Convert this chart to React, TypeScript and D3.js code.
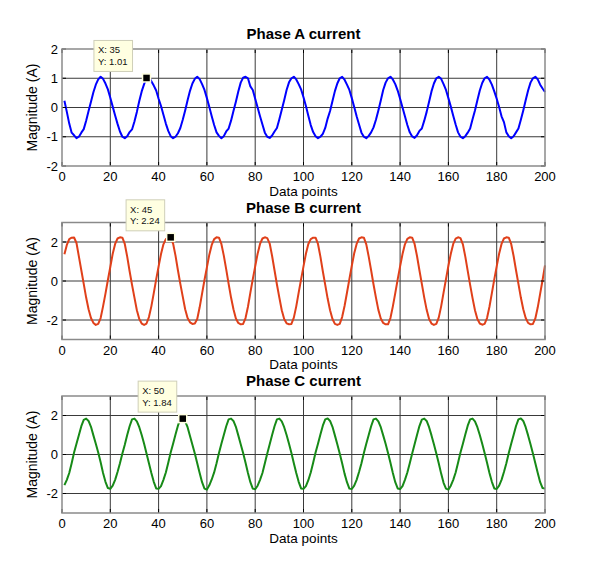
import React, { useEffect, useRef } from "react";
import * as d3 from "d3";

// sample values, x = 1..200
const phaseA = [
  0.23, -0.15, -0.55, -0.86, -0.95, -1.05, -1.0, -0.86, -0.74, -0.45, -0.12, 0.2, 0.52, 0.78, 0.96, 1.05, 0.98, 0.82, 0.62, 0.33,
  0.03, -0.27, -0.56, -0.82, -1.0, -1.05, -0.98, -0.84, -0.75, -0.48, -0.15, 0.22, 0.55, 0.8, 1.01, 1.05, 0.9, 0.75, 0.58, 0.3,
  0.05, -0.25, -0.55, -0.8, -0.98, -1.05, -1.0, -0.88, -0.7, -0.42, -0.1, 0.25, 0.57, 0.82, 0.98, 1.05, 0.97, 0.8, 0.6, 0.32,
  0.02, -0.3, -0.6, -0.85, -0.97, -1.05, -0.98, -0.82, -0.72, -0.45, -0.12, 0.2, 0.55, 0.85, 1.02, 1.05, 1.0, 0.72, 0.6, 0.3,
  0.0, -0.3, -0.58, -0.86, -1.0, -1.04, -0.96, -0.82, -0.7, -0.4, -0.08, 0.25, 0.6, 0.86, 1.0, 1.05, 0.96, 0.8, 0.62, 0.35,
  0.05, -0.28, -0.6, -0.84, -0.98, -1.05, -1.0, -0.9, -0.7, -0.38, -0.12, 0.22, 0.56, 0.82, 1.0, 1.05, 0.95, 0.78, 0.6, 0.32,
  0.02, -0.3, -0.58, -0.86, -1.0, -1.05, -0.97, -0.85, -0.68, -0.42, -0.1, 0.24, 0.6, 0.85, 1.0, 1.05, 0.96, 0.8, 0.58, 0.3,
  0.0, -0.3, -0.6, -0.85, -0.99, -1.04, -0.95, -0.8, -0.72, -0.45, -0.15, 0.2, 0.55, 0.82, 1.0, 1.05, 0.98, 0.8, 0.6, 0.32,
  0.03, -0.28, -0.58, -0.85, -1.0, -1.05, -0.98, -0.86, -0.72, -0.4, -0.1, 0.25, 0.58, 0.84, 1.0, 1.05, 0.95, 0.78, 0.55, 0.3,
  0.02, -0.3, -0.5, -0.85, -0.98, -1.05, -0.98, -0.85, -0.72, -0.42, -0.1, 0.25, 0.58, 0.85, 1.0, 1.05, 0.96, 0.78, 0.65, 0.53,
];

const phaseB = [
  1.37, 1.85, 2.15, 2.22, 2.23, 1.95, 1.25, 0.55, -0.15, -0.85, -1.45, -1.9, -2.15, -2.25, -2.2, -1.9, -1.3, -0.65, 0.05, 0.72,
  1.4, 1.9, 2.18, 2.24, 2.22, 1.9, 1.25, 0.5, -0.2, -0.85, -1.5, -1.95, -2.18, -2.25, -2.18, -1.85, -1.3, -0.62, 0.08, 0.75,
  1.38, 1.88, 2.15, 2.22, 2.24, 1.92, 1.3, 0.55, -0.15, -0.8, -1.45, -1.9, -2.12, -2.2, -2.18, -1.95, -1.35, -0.65, 0.05, 0.7,
  1.35, 1.85, 2.15, 2.24, 2.22, 1.9, 1.3, 0.6, -0.15, -0.85, -1.45, -1.92, -2.15, -2.22, -2.2, -1.9, -1.32, -0.6, 0.1, 0.75,
  1.4, 1.9, 2.18, 2.24, 2.2, 1.92, 1.28, 0.55, -0.18, -0.85, -1.5, -1.95, -2.17, -2.22, -2.2, -1.88, -1.3, -0.6, 0.08, 0.75,
  1.4, 1.9, 2.15, 2.22, 2.22, 1.9, 1.25, 0.5, -0.2, -0.9, -1.5, -1.95, -2.2, -2.25, -2.2, -1.85, -1.28, -0.6, 0.1, 0.78,
  1.42, 1.9, 2.18, 2.24, 2.22, 1.88, 1.25, 0.55, -0.18, -0.85, -1.48, -1.92, -2.15, -2.22, -2.22, -1.9, -1.3, -0.62, 0.08, 0.75,
  1.38, 1.88, 2.16, 2.24, 2.22, 1.9, 1.28, 0.55, -0.15, -0.85, -1.48, -1.95, -2.18, -2.25, -2.2, -1.88, -1.3, -0.6, 0.1, 0.78,
  1.4, 1.9, 2.17, 2.24, 2.2, 1.88, 1.25, 0.52, -0.2, -0.88, -1.5, -1.95, -2.18, -2.24, -2.2, -1.9, -1.32, -0.62, 0.08, 0.75,
  1.4, 1.9, 2.18, 2.24, 2.22, 1.9, 1.28, 0.55, -0.15, -0.85, -1.45, -1.9, -2.15, -2.22, -2.2, -1.92, -1.35, -0.65, 0.05, 0.8,
];

const phaseC = [
  -1.57, -1.3, -0.95, -0.45, 0.1, 0.55, 1.0, 1.45, 1.78, 1.84, 1.72, 1.42, 0.98, 0.55, 0.1, -0.4, -0.95, -1.4, -1.72, -1.76,
  -1.6, -1.3, -0.9, -0.45, 0.05, 0.5, 1.0, 1.45, 1.8, 1.84, 1.7, 1.4, 1.0, 0.55, 0.05, -0.45, -0.95, -1.4, -1.74, -1.76,
  -1.62, -1.3, -0.92, -0.42, 0.1, 0.55, 1.02, 1.48, 1.8, 1.84, 1.7, 1.4, 0.95, 0.5, 0.05, -0.45, -0.95, -1.42, -1.75, -1.8,
  -1.58, -1.28, -0.92, -0.45, 0.08, 0.55, 1.0, 1.45, 1.8, 1.84, 1.72, 1.42, 0.98, 0.52, 0.08, -0.42, -0.95, -1.42, -1.75, -1.78,
  -1.6, -1.3, -0.95, -0.45, 0.05, 0.52, 1.0, 1.45, 1.8, 1.84, 1.7, 1.4, 1.0, 0.55, 0.08, -0.45, -0.95, -1.4, -1.74, -1.76,
  -1.62, -1.32, -0.92, -0.42, 0.1, 0.55, 1.02, 1.48, 1.8, 1.85, 1.72, 1.42, 0.98, 0.52, 0.05, -0.45, -0.98, -1.42, -1.75, -1.77,
  -1.6, -1.3, -0.9, -0.45, 0.08, 0.55, 1.0, 1.45, 1.8, 1.84, 1.7, 1.4, 0.98, 0.55, 0.08, -0.42, -0.95, -1.42, -1.74, -1.77,
  -1.62, -1.3, -0.92, -0.45, 0.05, 0.52, 1.0, 1.46, 1.79, 1.84, 1.72, 1.4, 0.98, 0.52, 0.05, -0.45, -0.98, -1.45, -1.75, -1.8,
  -1.6, -1.3, -0.92, -0.42, 0.1, 0.55, 1.02, 1.48, 1.8, 1.84, 1.7, 1.4, 1.0, 0.55, 0.08, -0.42, -0.95, -1.4, -1.74, -1.77,
  -1.6, -1.3, -0.9, -0.45, 0.08, 0.55, 1.0, 1.46, 1.8, 1.85, 1.72, 1.4, 0.98, 0.52, 0.05, -0.45, -0.95, -1.42, -1.72, -1.75,
];

const xTicks = [0, 20, 40, 60, 80, 100, 120, 140, 160, 180, 200];
const yTicksA = [-2, -1, 0, 1, 2];
const yTicksBC = [-2, 0, 2];
const titles = ["Phase A current", "Phase B current", "Phase C current"];
const tipX = [35, 45, 50];

const FONT = "'Liberation Sans', Arial, sans-serif";

export default function App() {
  const ref = useRef(null);

  useEffect(() => {
    document.body.style.margin = "0";
    const svg = d3.select(ref.current);
    svg.selectAll("*").remove();

    const left = 62;
    const right = 545;
    const x = d3.scaleLinear().domain([0, 200]).range([left, right]);

    const panels = [
      { values: phaseA, color: "#0000ff", top: 49, domain: [-2, 2], ticks: yTicksA, tipDx: -14 },
      { values: phaseB, color: "#e0401a", top: 222.5, domain: [-3, 3], ticks: yTicksBC, tipDx: -6 },
      { values: phaseC, color: "#178a17", top: 396, domain: [-3, 3], ticks: yTicksBC, tipDx: -6 },
    ];
    const h = 117;

    panels.forEach((p, i) => {
      const bottom = p.top + h;
      const y = d3.scaleLinear().domain(p.domain).range([bottom, p.top]);
      const g = svg.append("g");

      // grid
      g.selectAll(".vg")
        .data(xTicks.slice(1, -1))
        .join("line")
        .attr("x1", (d) => x(d))
        .attr("x2", (d) => x(d))
        .attr("y1", p.top)
        .attr("y2", bottom)
        .attr("stroke", "#3a3a3a")
        .attr("stroke-width", 1);
      g.selectAll(".hg")
        .data(p.ticks.filter((t) => t > p.domain[0] && t < p.domain[1]))
        .join("line")
        .attr("x1", left)
        .attr("x2", right)
        .attr("y1", (d) => y(d))
        .attr("y2", (d) => y(d))
        .attr("stroke", "#3a3a3a")
        .attr("stroke-width", 1);

      // signal
      const line = d3
        .line<number>()
        .x((_, k) => x(k + 1))
        .y((d) => y(d));
      g.append("path")
        .datum(p.values)
        .attr("d", line)
        .attr("fill", "none")
        .attr("stroke", p.color)
        .attr("stroke-width", 2)
        .attr("stroke-linejoin", "round");

      // tick marks on all four sides
      const tl = 4;
      xTicks.forEach((t) => {
        g.append("line").attr("x1", x(t)).attr("x2", x(t)).attr("y1", bottom).attr("y2", bottom - tl).attr("stroke", "#000");
        g.append("line").attr("x1", x(t)).attr("x2", x(t)).attr("y1", p.top).attr("y2", p.top + tl).attr("stroke", "#000");
      });
      p.ticks.forEach((t) => {
        g.append("line").attr("x1", left).attr("x2", left + tl).attr("y1", y(t)).attr("y2", y(t)).attr("stroke", "#000");
        g.append("line").attr("x1", right).attr("x2", right - tl).attr("y1", y(t)).attr("y2", y(t)).attr("stroke", "#000");
      });

      // box
      g.append("rect")
        .attr("x", left)
        .attr("y", p.top)
        .attr("width", right - left)
        .attr("height", h)
        .attr("fill", "none")
        .attr("stroke", "#8a8a8a")
        .attr("stroke-width", 1.5);

      // tick labels
      g.selectAll(".xt")
        .data(xTicks)
        .join("text")
        .attr("x", (d) => x(d))
        .attr("y", bottom + 15)
        .attr("text-anchor", "middle")
        .style("font", `13px ${FONT}`)
        .text((d) => d);
      g.selectAll(".yt")
        .data(p.ticks)
        .join("text")
        .attr("x", left - 4)
        .attr("y", (d) => y(d))
        .attr("dy", "0.36em")
        .attr("text-anchor", "end")
        .style("font", `13px ${FONT}`)
        .text((d) => d);

      // labels
      const cx = (left + right) / 2;
      g.append("text")
        .attr("x", cx)
        .attr("y", p.top - 10)
        .attr("text-anchor", "middle")
        .style("font", `bold 15px ${FONT}`)
        .text(titles[i]);
      g.append("text")
        .attr("x", cx)
        .attr("y", bottom + 29.5)
        .attr("text-anchor", "middle")
        .style("font", `13.5px ${FONT}`)
        .text("Data points");
      g.append("text")
        .attr("transform", `translate(37,${(p.top + bottom) / 2}) rotate(-90)`)
        .attr("text-anchor", "middle")
        .style("font", `14px ${FONT}`)
        .text("Magnitude (A)");

      // data tip
      const tx = tipX[i];
      const tv = p.values[tx - 1];
      const mx = x(tx);
      const my = y(tv);
      const tip = g.append("g");
      const lines = [`X: ${tx}`, `Y: ${tv.toFixed(2)}`];
      const texts = tip
        .selectAll("text")
        .data(lines)
        .join("text")
        .style("font", `9.5px ${FONT}`)
        .attr("fill", "#111")
        .text((d) => d);
      const tw = d3.max(texts.nodes(), (n: any) => n.getComputedTextLength()) as number;
      const bw = tw + 9;
      const bh = 31;
      const bx = mx + p.tipDx - bw;
      const by = my - 6.5 - bh;
      tip.insert("rect", "text")
        .attr("x", bx)
        .attr("y", by)
        .attr("width", bw)
        .attr("height", bh)
        .attr("fill", "#ffffe1")
        .attr("stroke", "#cfcfb8");
      texts.attr("x", bx + 4).attr("y", (_, k) => by + 13 + k * 11.5);
      tip.append("rect")
        .attr("x", mx - 4)
        .attr("y", my - 4)
        .attr("width", 8)
        .attr("height", 8)
        .attr("fill", "#000")
        .attr("stroke", "#ffffe1")
        .attr("stroke-width", 1.5);
    });
  }, []);

  return <svg ref={ref} width={591} height={565} style={{ display: "block", background: "#fff" }} />;
}
